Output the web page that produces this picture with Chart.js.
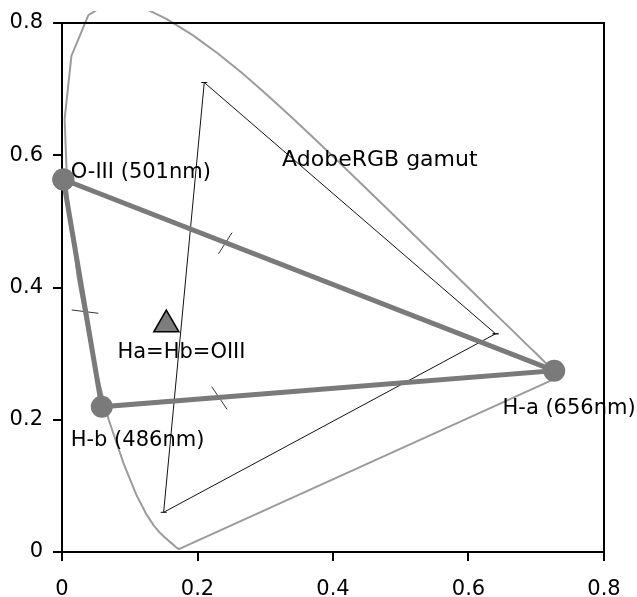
<!DOCTYPE html>
<html>
<head>
<meta charset="utf-8">
<script src="https://cdn.jsdelivr.net/npm/chart.js@4.4.1/dist/chart.umd.min.js"></script>
<style>
  html, body { margin: 0; padding: 0; background: #fff; }
  #wrap { width: 637px; height: 597px; }
</style>
</head>
<body>
<div id="wrap"><canvas id="c" width="637" height="597"></canvas></div>
<script>
// CIE 1931 spectral locus (chromaticity x, y), 380-700 nm
const locusX = [0.1741,0.1740,0.1738,0.1736,0.1733,0.1730,0.1726,0.1721,0.1714,0.1703,0.1689,0.1669,0.1644,0.1611,0.1566,0.1510,0.1440,0.1355,0.1241,0.1096,0.0913,0.0687,0.0454,0.0235,0.0082,0.0039,0.0139,0.0389,0.0743,0.1142,0.1547,0.1929,0.2296,0.2658,0.3016,0.3373,0.3731,0.4087,0.4441,0.4788,0.5125,0.5448,0.5752,0.6029,0.6270,0.6482,0.6658,0.6801,0.6915,0.7006,0.7079,0.7140,0.7190,0.7230,0.7260,0.7283,0.7300,0.7311,0.7320,0.7327,0.7334,0.7340,0.7344,0.7347,0.1741];
const locusY = [0.0050,0.0050,0.0049,0.0049,0.0048,0.0048,0.0048,0.0048,0.0051,0.0058,0.0069,0.0086,0.0109,0.0138,0.0177,0.0227,0.0297,0.0399,0.0578,0.0868,0.1327,0.2007,0.2950,0.4127,0.5384,0.6548,0.7502,0.8120,0.8338,0.8262,0.8059,0.7816,0.7543,0.7243,0.6923,0.6589,0.6245,0.5896,0.5547,0.5202,0.4866,0.4544,0.4242,0.3965,0.3725,0.3514,0.3340,0.3197,0.3083,0.2993,0.2920,0.2859,0.2809,0.2770,0.2740,0.2717,0.2700,0.2689,0.2680,0.2673,0.2666,0.2660,0.2656,0.2653,0.0050];

// Emission lines (triangle vertices)
const lineNames = ['O-III (501nm)', 'H-a (656nm)', 'H-b (486nm)'];
const lineX = [0.002, 0.7265, 0.0587];
const lineY = [0.5633, 0.2742, 0.2197];

// AdobeRGB gamut primaries R, G, B
const adobeX = [0.64, 0.21, 0.15];
const adobeY = [0.33, 0.71, 0.06];

// Equal mix point
const equalLabel = 'Ha=Hb=OIII';
const equalX = [0.154];
const equalY = [0.344];

// Small cross marks on the triangle sides
const markX = [[0.251, 0.231], [0.0143, 0.0537], [0.221, 0.2436]];
const markY = [[0.483, 0.451], [0.366, 0.361], [0.250, 0.2158]];

// Axis ticks
const tickValues = [0, 0.2, 0.4, 0.6, 0.8];
const tickLabels = ['0', '0.2', '0.4', '0.6', '0.8'];

const pts = (xs, ys) => xs.map((x, i) => ({ x: x, y: ys[i] }));
const closed = (xs, ys) => pts(xs.concat([xs[0]]), ys.concat([ys[0]]));

const datasets = [];
datasets.push({
  label: 'locus', data: pts(locusX, locusY), showLine: true, borderColor: '#9b9b9b',
  borderWidth: 2, pointRadius: 0, order: 6, clip: { left: 5, top: 12, right: 5, bottom: 5 }
});
datasets.push({
  label: 'AdobeRGB', data: closed(adobeX, adobeY), showLine: true, borderColor: '#111',
  borderWidth: 1, pointStyle: 'line', pointRadius: 3, pointBorderColor: '#111',
  pointBorderWidth: 1, order: 5, clip: false
});
markX.forEach((mx, i) => datasets.push({
  label: 'mark' + i, data: pts(mx, markY[i]), showLine: true, borderColor: '#333',
  borderWidth: 1, pointRadius: 0, order: 4, clip: false
}));
datasets.push({
  label: 'lines', data: closed(lineX, lineY), showLine: true, borderColor: '#7a7a7a',
  borderWidth: 5, pointRadius: 11, pointBackgroundColor: '#7a7a7a', pointBorderWidth: 0,
  order: 2, clip: false
});
datasets.push({
  label: equalLabel, data: pts(equalX, equalY), showLine: false, pointStyle: 'triangle',
  pointRadius: 14.5, pointBackgroundColor: '#7d7d7d', pointBorderColor: '#000',
  pointBorderWidth: 1.5, order: 1, clip: false
});

const textLabels = [
  { text: lineNames[0], x: 0.0129, y: 0.5656, size: 21 },
  { text: 'AdobeRGB gamut', x: 0.3249, y: 0.5837, size: 22 },
  { text: equalLabel, x: 0.0818, y: 0.2938, size: 21 },
  { text: lineNames[2], x: 0.0129, y: 0.1608, size: 21 },
  { text: lineNames[1], x: 0.6502, y: 0.2087, size: 21 }
];

const labelPlugin = {
  id: 'labels',
  afterDatasetsDraw(chart) {
    const ctx = chart.ctx, xs = chart.scales.x, ys = chart.scales.y;
    ctx.save();
    ctx.fillStyle = '#000';
    ctx.textAlign = 'left';
    ctx.textBaseline = 'alphabetic';
    textLabels.forEach(l => {
      ctx.font = l.size + 'px "DejaVu Sans"';
      ctx.fillText(l.text, xs.getPixelForValue(l.x), ys.getPixelForValue(l.y));
    });
    ctx.restore();
  },
  afterDraw(chart) {
    const ctx = chart.ctx, a = chart.chartArea;
    ctx.save();
    ctx.strokeStyle = '#000';
    ctx.lineWidth = 2;
    ctx.beginPath();
    ctx.moveTo(a.left, a.top);
    ctx.lineTo(a.right, a.top);
    ctx.lineTo(a.right, a.bottom);
    ctx.stroke();
    ctx.restore();
  }
};

const axisCommon = {
  type: 'linear', min: 0, max: 0.8,
  afterBuildTicks: s => { s.ticks = tickValues.map(v => ({ value: v })); },
  grid: { display: true, drawOnChartArea: false, drawTicks: true, tickLength: 9, lineWidth: 2, color: '#000' },
  border: { display: true, color: '#000', width: 2 }
};

new Chart(document.getElementById('c'), {
  type: 'scatter',
  data: { datasets: datasets },
  options: {
    responsive: false,
    animation: false,
    devicePixelRatio: 1,
    layout: { padding: { top: 23, right: 33, left: 0, bottom: 0 } },
    plugins: { legend: { display: false }, tooltip: { enabled: false } },
    scales: {
      x: Object.assign({}, axisCommon, {
        position: 'bottom',
        ticks: {
          padding: 16, color: '#000', font: { family: 'DejaVu Sans', size: 21 }, maxRotation: 0,
          callback: (v) => tickLabels[tickValues.indexOf(v)] ?? ''
        },
        afterFit: s => { s.height = 45; }
      }),
      y: Object.assign({}, axisCommon, {
        position: 'left',
        ticks: {
          padding: 10, color: '#000', font: { family: 'DejaVu Sans', size: 21 },
          callback: (v) => tickLabels[tickValues.indexOf(v)] ?? ''
        },
        afterFit: s => { s.width = 62; }
      })
    }
  },
  plugins: [labelPlugin]
});
</script>
</body>
</html>
